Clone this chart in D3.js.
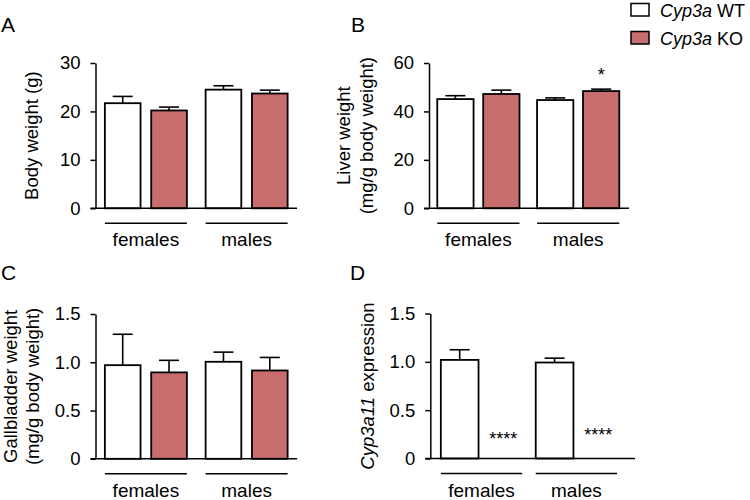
<!DOCTYPE html>
<html><head><meta charset="utf-8">
<script src="https://cdn.jsdelivr.net/npm/d3@7"></script>
<style>body{margin:0;background:#fff}svg{display:block}text{font-family:"Liberation Sans",Arial,sans-serif;fill:#000}</style>
</head><body><svg id="c" width="750" height="500"></svg>
<script>
// ---- data ----
const groups = ["females", "males"];
const series = ["WT", "KO"];
const seriesLabels = ["WT", "KO"];
const seriesColors = ["#ffffff", "#c86d6d"];

const bodyWT = [21.7, 24.5], bodyWTsem = [1.4, 0.8];
const bodyKO = [20.2, 23.7], bodyKOsem = [0.7, 0.7];
const bodyTicks = [0, 10, 20, 30];

const liverWT = [45.1, 44.7], liverWTsem = [1.4, 0.9];
const liverKO = [47.2, 48.4], liverKOsem = [1.6, 0.8];
const liverTicks = [0, 20, 40, 60];
const liverStars = [["males", "KO", "*", 52.7]];

const gbWT = [0.97, 1.005], gbWTsem = [0.32, 0.10];
const gbKO = [0.895, 0.915], gbKOsem = [0.125, 0.135];
const gbTicks = [0, 0.5, 1.0, 1.5];

const cypWT = [1.02, 0.993], cypWTsem = [0.105, 0.045];
const cypKO = [0.0, 0.0], cypKOsem = [0, 0];
const cypTicks = [0, 0.5, 1.0, 1.5];
const cypStars = [["females", "KO", "****", 0.14], ["males", "KO", "****", 0.178]];

// ---- drawing ----
const svg = d3.select("#c");
const FS = 18.5;

function panel(cfg) {
  const g = svg.append("g");
  const y = d3.scaleLinear().domain([0, cfg.max]).range([cfg.y0, cfg.y1]);
  const xg = d3.scaleBand().domain(groups).range([cfg.x0, cfg.x1])
    .paddingInner(cfg.pi).paddingOuter(cfg.po).align(cfg.align);
  const xs = d3.scaleBand().domain(series).range([0, xg.bandwidth()])
    .paddingInner(cfg.spi).paddingOuter(0);
  const rows = [];
  groups.forEach((gr, i) => {
    rows.push({g: gr, s: "WT", v: cfg.wt[i], e: cfg.wtsem[i]});
    rows.push({g: gr, s: "KO", v: cfg.ko[i], e: cfg.kosem[i]});
  });
  // error bars
  const eb = g.append("g").attr("stroke", "#000").attr("stroke-width", 1.6);
  rows.filter(d => d.e > 0).forEach(d => {
    const cx = xg(d.g) + xs(d.s) + xs.bandwidth() / 2;
    eb.append("line").attr("x1", cx).attr("x2", cx).attr("y1", y(d.v)).attr("y2", y(d.v + d.e));
    eb.append("line").attr("x1", cx - 10).attr("x2", cx + 10).attr("y1", y(d.v + d.e)).attr("y2", y(d.v + d.e));
  });
  // bars
  g.append("g").selectAll("rect").data(rows.filter(d => d.v > 0)).join("rect")
    .attr("x", d => xg(d.g) + xs(d.s))
    .attr("width", xs.bandwidth())
    .attr("y", d => y(d.v))
    .attr("height", d => y(0) - y(d.v))
    .attr("fill", d => seriesColors[series.indexOf(d.s)])
    .attr("stroke", "#000").attr("stroke-width", 1.8);
  // y axis
  const ax = g.append("g").attr("transform", `translate(${cfg.x0},0)`)
    .call(d3.axisLeft(y).tickValues(cfg.ticks).tickSize(5).tickSizeOuter(0).tickPadding(10)
      .tickFormat(cfg.fmt));
  ax.selectAll("path,line").attr("stroke", "#000").attr("stroke-width", 1.5);
  ax.selectAll("text").attr("font-size", FS).attr("font-family", '"Liberation Sans",Arial,sans-serif').attr("fill", "#000");
  // baseline
  g.append("line").attr("x1", cfg.x0 - 5).attr("x2", cfg.x1).attr("y1", y(0)).attr("y2", y(0))
    .attr("stroke", "#000").attr("stroke-width", 1.5);
  // group lines and labels
  groups.forEach(gr => {
    const a = xg(gr) + xs("WT"), b = xg(gr) + xs("KO") + xs.bandwidth();
    g.append("line").attr("x1", a).attr("x2", b).attr("y1", y(0) + 15).attr("y2", y(0) + 15)
      .attr("stroke", "#000").attr("stroke-width", 1.5);
    g.append("text").attr("x", (a + b) / 2).attr("y", y(0) + 38).attr("text-anchor", "middle")
      .attr("font-size", 19).text(gr);
  });
  // stars
  (cfg.stars || []).forEach(s => {
    const cx = xg(s[0]) + xs(s[1]) + xs.bandwidth() / 2;
    g.append("text").attr("x", cx).attr("y", y(s[3])).attr("text-anchor", "middle")
      .attr("font-size", 18).text(s[2]);
  });
  // y title
  const yc = (cfg.y0 + cfg.y1) / 2;
  cfg.titles.forEach(t => {
    const tt = g.append("text").attr("transform", `translate(${t.x},${yc}) rotate(-90)`)
      .attr("text-anchor", "middle").attr("font-size", FS);
    t.parts.forEach(p => tt.append("tspan").attr("font-style", p[1] ? "italic" : null).text(p[0]));
  });
  // panel letter
  svg.append("text").attr("x", cfg.lx).attr("y", cfg.ly).attr("font-size", 21).text(cfg.letter);
}

const intFmt = d3.format("d");
const decFmt = d => d === 0 ? "0" : d3.format(".1f")(d);

panel({letter: "A", lx: 1, ly: 32, x0: 95.5, x1: 297, y0: 208.3, y1: 63, max: 30,
  pi: 0.186, po: 0.093, align: 0.5, spi: 0.23,
  wt: bodyWT, wtsem: bodyWTsem, ko: bodyKO, kosem: bodyKOsem, ticks: bodyTicks, fmt: intFmt,
  titles: [{x: 38, parts: [["Body weight (g)", false]]}]});

panel({letter: "B", lx: 351, ly: 32, x0: 429, x1: 629, y0: 208.3, y1: 63, max: 60,
  pi: 0.176, po: 0.09, align: 0.46, spi: 0.21,
  wt: liverWT, wtsem: liverWTsem, ko: liverKO, kosem: liverKOsem, ticks: liverTicks, fmt: intFmt,
  stars: liverStars,
  titles: [{x: 350, parts: [["Liver weight", false]]}, {x: 373, parts: [["(mg/g body weight)", false]]}]});

panel({letter: "C", lx: 1, ly: 280, x0: 95.5, x1: 297, y0: 458.8, y1: 314, max: 1.5,
  pi: 0.186, po: 0.093, align: 0.5, spi: 0.23,
  wt: gbWT, wtsem: gbWTsem, ko: gbKO, kosem: gbKOsem, ticks: gbTicks, fmt: decFmt,
  titles: [{x: 17, parts: [["Gallbladder weight", false]]}, {x: 39, parts: [["(mg/g body weight)", false]]}]});

panel({letter: "D", lx: 350, ly: 280, x0: 430.3, x1: 635, y0: 458.5, y1: 313.5, max: 1.5,
  pi: 0.143, po: 0.15, align: 0.37, spi: 0.136,
  wt: cypWT, wtsem: cypWTsem, ko: cypKO, kosem: cypKOsem, ticks: cypTicks, fmt: decFmt,
  stars: cypStars,
  titles: [{x: 374, parts: [["Cyp3a11", true], [" expression", false]]}]});

// legend
const lg = svg.append("g");
series.forEach((s, i) => {
  const yy = 3.5 + i * 28;
  lg.append("rect").attr("x", 631).attr("y", yy).attr("width", 18).attr("height", 12.5)
    .attr("fill", seriesColors[i]).attr("stroke", "#000").attr("stroke-width", 1.5);
  const t = lg.append("text").attr("x", 660).attr("y", yy + 13).attr("font-size", 18);
  t.append("tspan").attr("font-style", "italic").text("Cyp3a");
  t.append("tspan").text(" " + seriesLabels[i]);
});
</script></body></html>
